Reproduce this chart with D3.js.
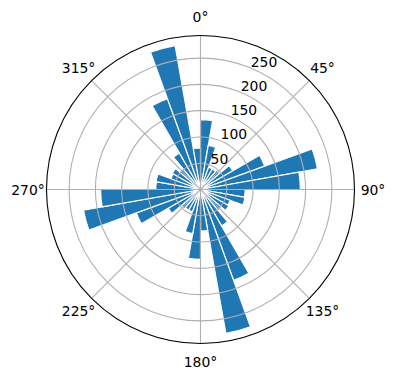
<!DOCTYPE html>
<html>
<head>
<meta charset="utf-8">
<script src="https://cdn.jsdelivr.net/npm/d3@7"></script>
<style>
  html, body { margin: 0; padding: 0; background: #fff; }
  text { font-family: "DejaVu Sans", sans-serif; font-size: 13.9px; fill: #000; }
</style>
</head>
<body>
<script>
// bin start angles (degrees, clockwise from north), 10 degree wide
const binAngles = [0, 10, 20, 30, 40, 50, 60, 70, 80, 90, 100, 110,
                   120, 130, 140, 150, 160, 170, 180, 190, 200, 210, 220, 230,
                   240, 250, 260, 270, 280, 290, 300, 310, 320, 330, 340, 350];
const counts = [133, 85, 45, 45, 48, 71, 130, 226, 190, 85, 86, 60,
                62, 52, 80, 184, 278, 79, 133, 85, 45, 45, 48, 71,
                130, 226, 190, 85, 86, 60, 62, 52, 80, 184, 278, 79];
const radialTicks = [50, 100, 150, 200, 250];
const angleTicks = [0, 45, 90, 135, 180, 225, 270, 315];

const width = 396, height = 380;
const cx = 200.5, cy = 189.5, R = 154;
const rMax = 293;
const binWidth = 10;

const svg = d3.select("body").append("svg")
    .attr("width", width)
    .attr("height", height);

const g = svg.append("g").attr("transform", `translate(${cx},${cy})`);

const r = d3.scaleLinear().domain([0, rMax]).range([0, R]);
const rad = d => d * Math.PI / 180;

// bars
const arc = d3.arc()
    .innerRadius(0)
    .outerRadius(d => r(d.value))
    .startAngle(d => rad(d.angle))
    .endAngle(d => rad(d.angle + binWidth));

const bins = binAngles.map((a, i) => ({ angle: a, value: counts[i] }));

g.selectAll("path.bar")
    .data(bins)
    .join("path")
    .attr("class", "bar")
    .attr("d", arc)
    .attr("fill", "#1f77b4")
    .attr("stroke", "#fff")
    .attr("stroke-width", 1.2)
    .attr("stroke-linejoin", "miter");

// grid rings
g.selectAll("circle.ring")
    .data(radialTicks)
    .join("circle")
    .attr("class", "ring")
    .attr("r", d => r(d))
    .attr("fill", "none")
    .attr("stroke", "#b0b0b0")
    .attr("stroke-width", 1.1);

// grid spokes
g.selectAll("line.spoke")
    .data(angleTicks)
    .join("line")
    .attr("class", "spoke")
    .attr("x1", 0).attr("y1", 0)
    .attr("x2", d => R * Math.sin(rad(d)))
    .attr("y2", d => -R * Math.cos(rad(d)))
    .attr("stroke", "#b0b0b0")
    .attr("stroke-width", 1.1);

// outer frame
g.append("circle")
    .attr("r", R)
    .attr("fill", "none")
    .attr("stroke", "#000")
    .attr("stroke-width", 1.1);

// radial tick labels along 22.5 deg
const labelAngle = rad(22.5);
g.selectAll("text.rlabel")
    .data(radialTicks)
    .join("text")
    .attr("class", "rlabel")
    .attr("x", d => r(d) * Math.sin(labelAngle))
    .attr("y", d => -r(d) * Math.cos(labelAngle) - 1.5)
    .attr("text-anchor", "start")
    .text(d => d);

// angular tick labels
const labelR = 172.5;
g.selectAll("text.tlabel")
    .data(angleTicks)
    .join("text")
    .attr("class", "tlabel")
    .attr("x", d => labelR * Math.sin(rad(d)))
    .attr("y", d => -labelR * Math.cos(rad(d)))
    .attr("text-anchor", "middle")
    .attr("dominant-baseline", "central")
    .text(d => d + "°");
</script>
</body>
</html>
